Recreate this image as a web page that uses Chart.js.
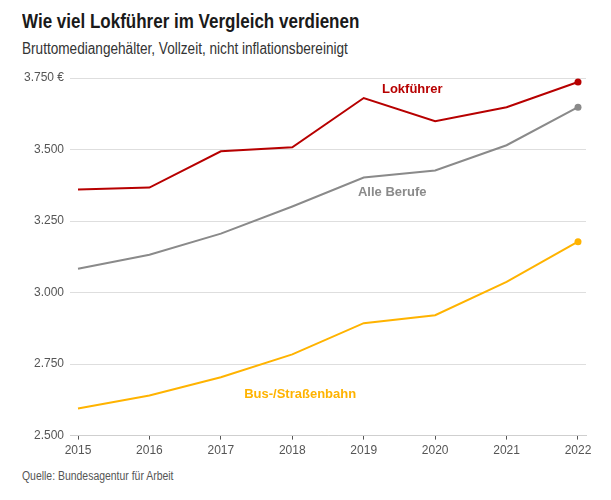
<!DOCTYPE html>
<html><head><meta charset="utf-8">
<script src="https://cdn.jsdelivr.net/npm/chart.js@4/dist/chart.umd.min.js"></script>
<style>
html,body{margin:0;padding:0;background:#fff;width:611px;height:500px;overflow:hidden;}
#title{position:absolute;left:22px;top:9px;font:700 21px 'Liberation Sans','DejaVu Sans',sans-serif;color:#1a1a1a;white-space:nowrap;transform:scaleX(0.81);transform-origin:0 0;}
#subtitle{position:absolute;left:22px;top:40px;font:400 16px 'Liberation Sans','DejaVu Sans',sans-serif;color:#333;white-space:nowrap;transform:scaleX(0.85);transform-origin:0 0;}
#source{position:absolute;left:22px;top:469px;font:400 12px 'Liberation Sans','DejaVu Sans',sans-serif;color:#555;white-space:nowrap;transform:scaleX(0.87);transform-origin:0 0;}
#wrap{position:absolute;left:0;top:60px;width:611px;height:402px;}
</style></head>
<body>
<div id="title">Wie viel Lokführer im Vergleich verdienen</div>
<div id="subtitle">Bruttomediangehälter, Vollzeit, nicht inflationsbereinigt</div>
<div id="wrap"><canvas id="c"></canvas></div>
<div id="source">Quelle: Bundesagentur für Arbeit</div>
<script>
const years = [2015, 2016, 2017, 2018, 2019, 2020, 2021, 2022];
const lokfuehrer = [3360, 3367, 3494, 3508, 3680, 3599, 3648, 3736];
const alleBerufe = [3083, 3132, 3206, 3301, 3402, 3427, 3515, 3648];
const busBahn = [2595, 2640, 2704, 2784, 2893, 2921, 3037, 3178];
const yTicks = [2500, 2750, 3000, 3250, 3500, 3750];
const seriesNames = ['Lokführer', 'Alle Berufe', 'Bus-/Straßenbahn'];

const colors = ['#b70000', '#8a8a8a', '#ffb300'];
const labelAnchors = [[2019.68, 3711], [2019.4, 3350], [2018.11, 2644]];

function toPts(arr){ return arr.map((v,i)=>({x:years[i], y:v})); }
function endRadius(arr){ return arr.map((v,i)=> i===arr.length-1 ? 3.5 : 0); }

const labelPlugin = {
  id:'seriesLabels',
  afterDatasetsDraw(chart){
    const ctx = chart.ctx, xs = chart.scales.x, ys = chart.scales.y;
    ctx.save();
    ctx.font = "700 13px 'Liberation Sans','DejaVu Sans',sans-serif";
    ctx.textAlign='center'; ctx.textBaseline='middle';
    seriesNames.forEach((n,i)=>{
      ctx.fillStyle = colors[i];
      ctx.fillText(n, xs.getPixelForValue(labelAnchors[i][0]), ys.getPixelForValue(labelAnchors[i][1]));
    });
    ctx.restore();
  }
};

const datasets = [lokfuehrer, alleBerufe, busBahn].map((arr,i)=>({
  label: seriesNames[i],
  data: toPts(arr),
  borderColor: colors[i],
  backgroundColor: colors[i],
  borderWidth: 2,
  pointRadius: endRadius(arr),
  pointHoverRadius: endRadius(arr),
  pointBorderWidth: 0,
  tension: 0,
  fill:false
}));

new Chart(document.getElementById('c'), {
  type:'line',
  data:{datasets},
  plugins:[labelPlugin],
  options:{
    responsive:true, maintainAspectRatio:false, animation:false,
    layout:{padding:{top:18,right:25,left:0,bottom:0}},
    plugins:{legend:{display:false}, tooltip:{enabled:false}},
    scales:{
      x:{
        type:'linear', min:2014.888, max:2022.112,
        afterBuildTicks(s){ s.ticks = years.map(v=>({value:v})); },
        grid:{display:true, drawOnChartArea:false, drawTicks:true, tickLength:4, tickColor:'#555', lineWidth:1},
        border:{display:true, color:'#cfcfcf', width:1},
        ticks:{color:'#555', font:{family:"'Liberation Sans','DejaVu Sans',sans-serif", size:12}, padding:4,
          callback:(v)=>String(v), maxRotation:0, autoSkip:false}
      },
      y:{
        min:2500, max:3750,
        afterBuildTicks(s){ s.ticks = yTicks.map(v=>({value:v})); },
        afterFit(s){ s.width = 70; },
        grid:{color:'#dedede', lineWidth:1, drawTicks:false},
        border:{display:false},
        ticks:{color:'#555', font:{family:"'Liberation Sans','DejaVu Sans',sans-serif", size:12}, padding:6,
          callback:(v)=>{ const s = v.toLocaleString('de-DE'); return v===3750 ? s+' €' : s; }}
      }
    }
  }
});
</script>
</body></html>
